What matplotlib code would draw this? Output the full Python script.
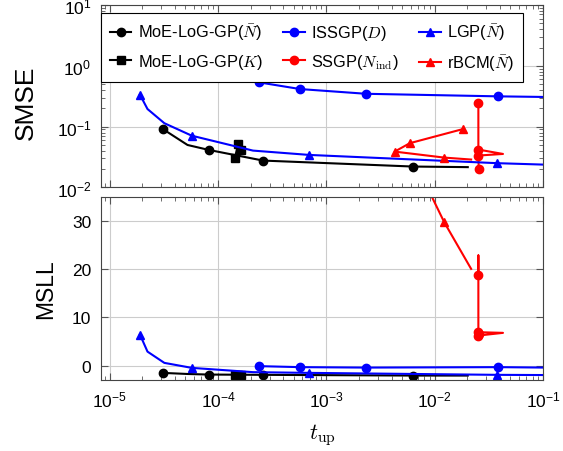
import matplotlib
matplotlib.use("Agg")
import matplotlib.pyplot as plt
from matplotlib.ticker import LogLocator, NullFormatter

plt.rcParams["font.family"] = ["Liberation Sans", "DejaVu Sans"]
plt.rcParams["mathtext.fontset"] = "cm"

# MoE-LoG-GP(N bar)
moe_n_t = [3.08e-5, 5.22e-5, 8.18e-5, 2.6e-4, 6.28e-3, 0.0202]
moe_n_smse = [0.0917, 0.050, 0.0415, 0.0277, 0.0221, 0.0216]
moe_n_msll = [-1.52, -1.75, -1.87, -1.93, -2.08, -2.08]
moe_n_marks = [0, 2, 3, 4]

# MoE-LoG-GP(K)
moe_k_t = [1.43e-4, 1.53e-4, 1.64e-4]
moe_k_smse = [0.0303, 0.052, 0.042]
moe_k_msll = [-1.87, -1.87, -1.87]

# ISSGP(D)
issgp_t = [2.4e-4, 5.73e-4, 2.33e-3, 0.0386, 0.2]
issgp_smse = [0.534, 0.415, 0.347, 0.315, 0.303]
issgp_msll = [-0.12, -0.33, -0.42, -0.33, -0.48]
issgp_marks = [0, 1, 2, 3]

# SSGP(N_ind)
ssgp_t = [0.0253, 0.0253, 0.0253, 0.0427, 0.0253, 0.0254, 0.0255]
ssgp_smse = [0.242, 0.06, 0.042, 0.0356, 0.0335, 0.026, 0.0203]
ssgp_msll = [18.85, 22.9, 6.94, 6.8, 6.24, 6.4, 6.5]
ssgp_marks = [0, 2, 4, 6]

# LGP(N bar)
lgp_t = [1.9e-5, 2.23e-5, 3.19e-5, 5.72e-5, 2.1e-4, 6.94e-4, 0.0378, 0.2]
lgp_smse = [0.335, 0.195, 0.114, 0.071, 0.0404, 0.0343, 0.0251, 0.0229]
lgp_msll = [6.44, 2.9, 0.56, -0.48, -1.37, -1.52, -1.93, -2.0]
lgp_marks = [0, 3, 5, 6]

# rBCM(N bar)
rbcm_t = [0.0184, 5.89e-3, 4.27e-3, 0.01225, 0.0217]
rbcm_smse = [0.0917, 0.0535, 0.0389, 0.031, 0.0288]
rbcm_msll = [80.0, 60.0, 51.0, 29.8, 20.1]
rbcm_marks = [0, 1, 2, 3]

series = [
    ("MoE-LoG-GP($\\bar{N}$)", moe_n_t, moe_n_smse, moe_n_msll, "black", "o", moe_n_marks),
    ("MoE-LoG-GP($K$)", moe_k_t, moe_k_smse, moe_k_msll, "black", "s", None),
    ("ISSGP($D$)", issgp_t, issgp_smse, issgp_msll, "blue", "o", issgp_marks),
    ("SSGP($N_{\\mathrm{ind}}$)", ssgp_t, ssgp_smse, ssgp_msll, "red", "o", ssgp_marks),
    ("LGP($\\bar{N}$)", lgp_t, lgp_smse, lgp_msll, "blue", "^", lgp_marks),
    ("rBCM($\\bar{N}$)", rbcm_t, rbcm_smse, rbcm_msll, "red", "^", rbcm_marks),
]

fig = plt.figure(figsize=(5.63, 4.52), dpi=100)
ax1 = fig.add_axes([0.1794, 0.5830, 0.7851, 0.4037])
ax2 = fig.add_axes([0.1794, 0.1571, 0.7851, 0.4043])

for name, t, smse, msll, c, m, marks in series:
    ax1.plot(t, smse, color=c, marker=m, markevery=marks, ms=6, lw=1.5, label=name)
    ax2.plot(t, msll, color=c, marker=m, markevery=marks, ms=6, lw=1.5)

for ax in (ax1, ax2):
    ax.set_xscale("log")
    ax.set_xlim(8.3e-6, 0.1)
    ax.xaxis.set_major_locator(LogLocator(base=10, numticks=10))
    ax.xaxis.set_minor_locator(LogLocator(base=10, subs=range(2, 10), numticks=10))
    ax.xaxis.set_minor_formatter(NullFormatter())
    ax.grid(True, which="major", color="#cccccc", lw=0.8)
    ax.set_axisbelow(True)
    ax.tick_params(which="both", direction="in", top=True, right=True,
                   labelsize=12.5, color="#555555", pad=7)
    ax.tick_params(which="major", length=5)
    ax.tick_params(which="minor", length=3)
    for s in ax.spines.values():
        s.set_color("#444444")

ax1.set_yscale("log")
ax1.set_ylim(0.01, 10)
ax1.yaxis.set_minor_locator(LogLocator(base=10, subs=range(2, 10), numticks=10))
ax1.yaxis.set_minor_formatter(NullFormatter())
ax1.tick_params(labelbottom=False)
ax1.set_ylabel("SMSE", fontsize=19)
ax1.yaxis.set_label_coords(-0.143, 0.47)

ax2.set_ylim(-3, 35)
ax2.set_yticks([0, 10, 20, 30])
ax2.set_ylabel("MSLL", fontsize=16.5)
ax2.yaxis.set_label_coords(-0.1, 0.5)
ax2.set_xlabel("$t_{\\mathrm{up}}$", fontsize=16, labelpad=8)

leg = ax1.legend(ncol=3, loc="upper left", bbox_to_anchor=(0.0, 0.958),
                 fontsize=11.8, frameon=True, fancybox=False, edgecolor="black",
                 framealpha=1, handlelength=1.3, columnspacing=1.25,
                 handletextpad=0.4, borderaxespad=0.0, borderpad=0.55,
                 labelspacing=0.6)
leg.get_frame().set_linewidth(0.8)

fig.savefig("out.png", dpi=100)
